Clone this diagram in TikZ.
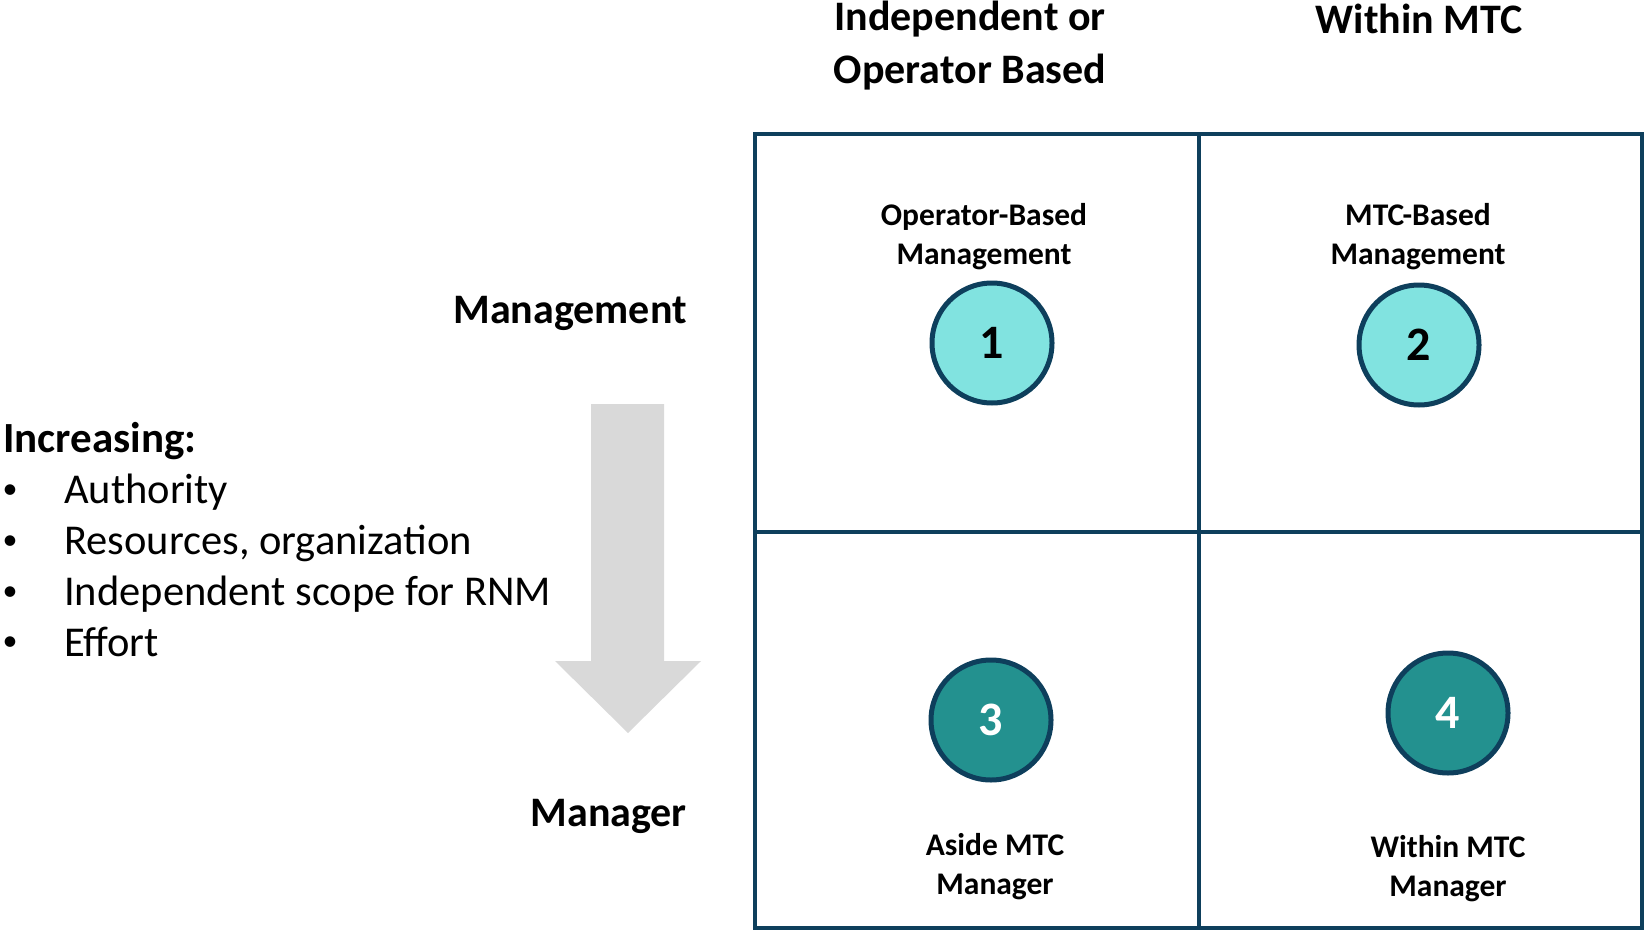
\documentclass[tikz,border=0pt]{standalone}
\usepackage{fontspec}
\setmainfont{Carlito}
\definecolor{navy}{HTML}{0E3F5C}
\definecolor{lightteal}{HTML}{81E3E0}
\definecolor{darkteal}{HTML}{23918F}
\definecolor{arrowgray}{HTML}{D9D9D9}
\begin{document}
\begin{tikzpicture}[x=1pt,y=-1pt,
  hdr/.style={font=\fontsize{42}{52.5}\selectfont\bfseries, align=center, inner sep=0pt},
  qlab/.style={font=\fontsize{31.5}{39}\selectfont\bfseries, align=center, inner sep=0pt},
  sidelab/.style={font=\fontsize{42}{50}\selectfont\bfseries, inner sep=0pt, anchor=east, text height=0.7em, text depth=0.25em},
  listitem/.style={font=\fontsize{42.5}{50}\selectfont, inner sep=0pt, anchor=west, text height=0.7em, text depth=0.25em},
  bul/.style={font=\fontsize{30}{50}\selectfont, inner sep=0pt, anchor=center},
  numc/.style={circle, draw=navy, line width=5pt, minimum size=120pt, inner sep=0pt, font=\fontsize{48}{50}\selectfont\bfseries},
  lightc/.style={numc, fill=lightteal, text=black},
  darkc/.style={numc, fill=darkteal, text=white},
  gridline/.style={draw=navy, line width=3.5pt}
]
\useasboundingbox (0,0) rectangle (1645,931);

% grid
\draw[gridline] (755,134) rectangle (1642,928);
\draw[gridline] (1199,134) -- (1199,928);
\draw[gridline] (755,532) -- (1642,532);

% headers
\node[hdr] (h1) at (970,45.5) {Independent or\\Operator Based};
\node[hdr] (h2) at (1419,19) {Within MTC};

% side labels
\node[sidelab] (sMgmt) at (687,321) {Management};
\node[sidelab] (sMgr) at (687,824) {Manager};

% quadrant labels
\node[qlab] (l1) at (984,237) {Operator-Based\\Management};
\node[qlab] (l2) at (1418,237) {MTC-Based\\Management};
\node[qlab] (l3) at (995,867) {Aside MTC\\Manager};
\node[qlab] (l4) at (1448,869) {Within MTC\\Manager};

% circles
\node[lightc] (c1) at (992,343) {1};
\node[lightc] (c2) at (1419,345) {2};
\node[darkc] (c3) at (991,720) {3};
\node[darkc] (c4) at (1448,713) {4};

% arrow
\fill[arrowgray] (591,404) -- (664,404) -- (664,661) -- (701,661) -- (628,733) -- (555,661) -- (591,661) -- cycle;

% list
\node[listitem, font=\fontsize{43}{50}\selectfont\bfseries] (inc) at (3,450) {Increasing:};
\node[bul] (b1) at (10,492) {\textbullet};
\node[listitem] (i1) at (64,501) {Authority};
\node[bul] (b2) at (10,543) {\textbullet};
\node[listitem] (i2) at (64,552) {Resources, organization};
\node[bul] (b3) at (10,594) {\textbullet};
\node[listitem] (i3) at (64,603) {Independent scope for RNM};
\node[bul] (b4) at (10,644) {\textbullet};
\node[listitem] (i4) at (64,654) {Effort};
\end{tikzpicture}
\end{document}
